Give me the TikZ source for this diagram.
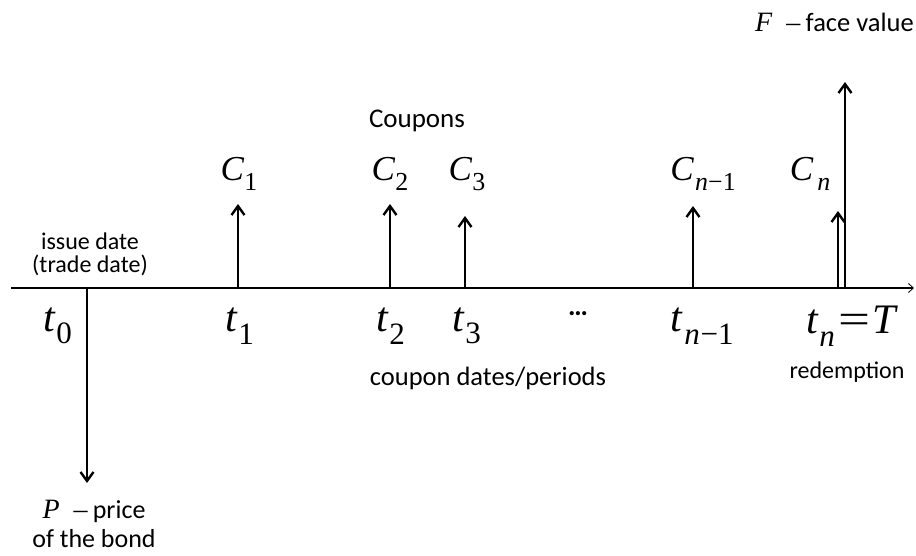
\documentclass[tikz,border=0pt]{standalone}
\usepackage{fontspec}
\setmainfont{Carlito}
\newfontfamily\tms{Liberation Serif}
\usetikzlibrary{arrows.meta}
% italic symbol with a lowered upright subscript
\newcommand{\sym}[3]{{\tms\fontsize{#1}{#1}\selectfont\textit{#2}\raisebox{-0.3em}{\fontsize{0.74\dimexpr#1\relax}{1}\selectfont #3}}}
\newcommand{\idxn}{\textit{n}}
\tikzset{
  cash/.style={line width=2.6pt,-{Straight Barb[length=9pt,width=13pt,line width=2.4pt]}},
  axisline/.style={line width=1.2pt,-{Straight Barb[length=5pt,width=9pt,line width=0.8pt]}},
  lbl/.style={inner sep=0pt,font=\fontsize{26.5}{29}\selectfont},
  small/.style={inner sep=0pt,font=\fontsize{24}{23}\selectfont},
  sym/.style={inner sep=0pt},
}
\begin{document}
\begin{tikzpicture}[x=1pt,y=-1pt]
\useasboundingbox (0,0) rectangle (916,555);
% time axis
\coordinate (a0) at (11,288);
\coordinate (a1) at (914,288);
\draw[axisline] (a0) -- (a1);
% foot points of the cash-flow arrows on the axis
\coordinate (b0) at (87,288);
\coordinate (b1) at (238,288);
\coordinate (b2) at (390,288);
\coordinate (b3) at (465,288);
\coordinate (bm) at (693,288);
\coordinate (bn) at (838,288);
\coordinate (bf) at (845,288);
% arrow tips
\coordinate (e0) at (87,483);
\coordinate (e1) at (238,204);
\coordinate (e2) at (390,204);
\coordinate (e3) at (465,216);
\coordinate (em) at (693,206);
\coordinate (en) at (838,211);
\coordinate (ef) at (845,82);
\draw[cash] (b0) -- (e0);
\draw[cash] (b1) -- (e1);
\draw[cash] (b2) -- (e2);
\draw[cash] (b3) -- (e3);
\draw[cash] (bm) -- (em);
\draw[cash] (bn) -- (en);
\draw[cash] (bf) -- (ef);
% dates below the axis
\node[sym] (t0) at (58,326) {\sym{42pt}{t}{0}};
\node[sym] (t1) at (240,326) {\sym{42pt}{t}{1}};
\node[sym] (t2) at (391,326) {\sym{42pt}{t}{2}};
\node[sym] (t3) at (467,326) {\sym{42pt}{t}{3}};
\node[sym] (dots) at (578,314) {\fontsize{28}{28}\selectfont\bfseries …};
\node[sym] (tm) at (702,326) {\sym{42pt}{t}{\kern0.05em\idxn\kern0.02em−1}};
\node[sym] (tn) at (852,326) {\sym{42pt}{t}{\kern0.02em\idxn}\kern0.4em{\tms\fontsize{42pt}{42pt}\selectfont\scalebox{1.35}[1]{=}\kern0.03em\textit{T}}};
% coupons above the axis
\node[sym] (c1) at (239,174) {\sym{35pt}{C}{1}};
\node[sym] (c2) at (390,174) {\sym{35pt}{C}{2}};
\node[sym] (c3) at (467,174) {\sym{35pt}{C}{3}};
\node[sym] (cm) at (703,174) {\sym{35pt}{C}{\kern0.05em\idxn−1}};
\node[sym] (cn) at (810,174) {\sym{35pt}{C}{\kern0.15em\idxn}};
% text labels
\node[lbl,font=\fontsize{27}{29}\selectfont] (coup) at (417,121) {Coupons};
\node[small,align=center] (issue) at (90,254) {issue date\\(trade date)};
\node[lbl] (cdates) at (488,378) {coupon dates/periods};
\node[small] (redem) at (847,372) {redemption};
\node[lbl,anchor=east] (face) at (914,22) {{\tms\fontsize{28}{28}\selectfont\textit{F}\enspace–}\kern0.2em face value};
\node[lbl,align=center,font=\fontsize{26}{29}\selectfont] (price) at (94,524) {{\tms\fontsize{28}{28}\selectfont\textit{P}\enspace–}\kern0.2em price\\of the bond};
\end{tikzpicture}
\end{document}
